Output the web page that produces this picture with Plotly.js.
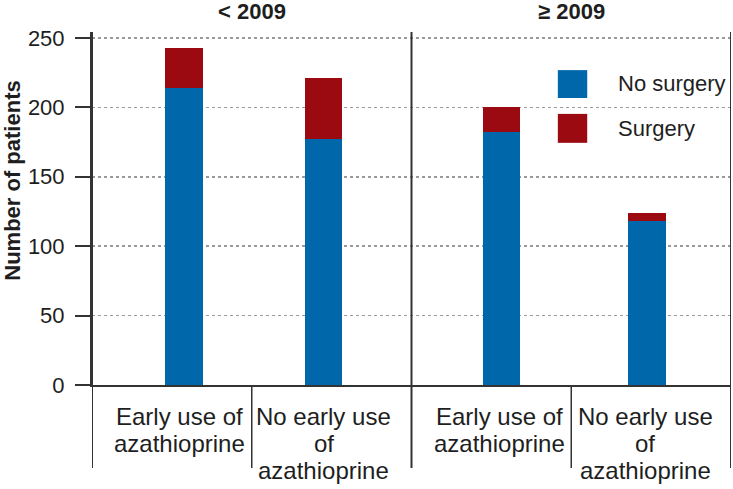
<!DOCTYPE html>
<html>
<head>
<meta charset="utf-8">
<script src="https://cdn.plot.ly/plotly-3.0.1.min.js"></script>
<style>
html,body{margin:0;padding:0;background:#fff;}
#chart{width:733px;height:489px;}
</style>
</head>
<body>
<div id="chart"></div>
<script>
// ---- data ----
const periods = ["< 2009", "\u2265 2009"];
const groupLines = [["Early use of", "azathioprine"], ["No early use", "of", "azathioprine"]];
const categories = [
  "< 2009 | Early use of azathioprine",
  "< 2009 | No early use of azathioprine",
  "\u2265 2009 | Early use of azathioprine",
  "\u2265 2009 | No early use of azathioprine"
];
const seriesNames = ["No surgery", "Surgery"];
const noSurgery = [214, 177, 182, 118];
const surgery = [29, 44, 18, 6];

// ---- style ----
const BLUE = "#0067ab", RED = "#9b0a10", INK = "#1e1e1e", LINE = "#333333";
const FONT = "Liberation Sans, Arial, sans-serif";
const barWidth = 0.235;
const barOffsets = [-0.043, -0.167, -0.053, -0.145];

const traces = [
  {type: "bar", name: seriesNames[0], x: categories, y: noSurgery,
   marker: {color: BLUE, line: {width: 0}}, width: barWidth, offset: barOffsets,
   hoverinfo: "y+name", showlegend: false},
  {type: "bar", name: seriesNames[1], x: categories, y: surgery,
   marker: {color: RED, line: {width: 0}}, width: barWidth, offset: barOffsets,
   hoverinfo: "y+name", showlegend: false}
];

const annotations = [];
// panel titles
periods.forEach((p, i) => {
  annotations.push({text: p, xref: "x", yref: "paper", x: 0.5 + 2 * i, y: 1, yshift: 20.5,
    xanchor: "center", yanchor: "middle", showarrow: false,
    font: {family: FONT, size: 22, color: INK, weight: "bold"}});
});
// category labels (each line separately)
const labelShift = [8, -8, 8, -6];
categories.forEach((c, i) => {
  const lines = groupLines[i % 2];
  lines.forEach((ln, k) => {
    annotations.push({text: ln, xref: "x", yref: "paper", x: c, y: 0,
      xshift: labelShift[i], yshift: -31 - 27 * k,
      xanchor: "center", yanchor: "middle", showarrow: false,
      font: {family: FONT, size: 24, color: INK}});
  });
});
// y axis title
annotations.push({text: "Number of patients", xref: "paper", yref: "paper",
  x: -0.125, y: 0.579, xanchor: "center", yanchor: "middle", textangle: -90,
  showarrow: false, font: {family: FONT, size: 22, color: INK, weight: "bold"}});
// legend text
const legendY = [0.853, 0.728];
seriesNames.forEach((n, i) => {
  annotations.push({text: n, xref: "paper", yref: "paper", x: 0.82, y: legendY[i],
    xanchor: "left", yanchor: "middle", showarrow: false,
    font: {family: FONT, size: 22, color: INK}});
});

const shapes = [];
// frame / panel dividers (full height)
[-0.5, 1.5, 3.5].forEach(xv => {
  shapes.push({type: "line", xref: "x", yref: "paper", x0: xv, x1: xv, y0: -0.235, y1: 1,
    line: {color: LINE, width: 2}});
});
// category dividers below baseline
[0.5, 2.5].forEach(xv => {
  shapes.push({type: "line", xref: "x", yref: "paper", x0: xv, x1: xv, y0: -0.235, y1: 0,
    line: {color: LINE, width: 1.5}});
});
// legend swatches
const swatch = [[0.813, 0.892], [0.686, 0.768]];
[BLUE, RED].forEach((col, i) => {
  shapes.push({type: "rect", xref: "paper", yref: "paper", x0: 0.729, x1: 0.775,
    y0: swatch[i][0], y1: swatch[i][1], fillcolor: col, line: {width: 0}});
});

const layout = {
  width: 733, height: 489,
  margin: {l: 92, r: 2, t: 32, b: 104},
  paper_bgcolor: "#ffffff", plot_bgcolor: "#ffffff",
  barmode: "stack",
  showlegend: false,
  xaxis: {type: "category", range: [-0.5, 3.5], showticklabels: false, ticks: "",
    showgrid: false, zeroline: false, showline: true, linecolor: LINE, linewidth: 2,
    fixedrange: true},
  yaxis: {range: [0, 254.3], dtick: 50, tick0: 0, ticks: "outside", ticklen: 15,
    tickwidth: 2, tickcolor: LINE, showline: true, linecolor: LINE, linewidth: 2,
    showgrid: true, gridcolor: "#9a9a9a", griddash: "dot", gridwidth: 1.5,
    zeroline: false, ticklabelstandoff: 6,
    tickfont: {family: FONT, size: 22, color: INK}, fixedrange: true},
  annotations: annotations,
  shapes: shapes
};

Plotly.newPlot("chart", traces, layout, {displayModeBar: false, staticPlot: true});
</script>
</body>
</html>
